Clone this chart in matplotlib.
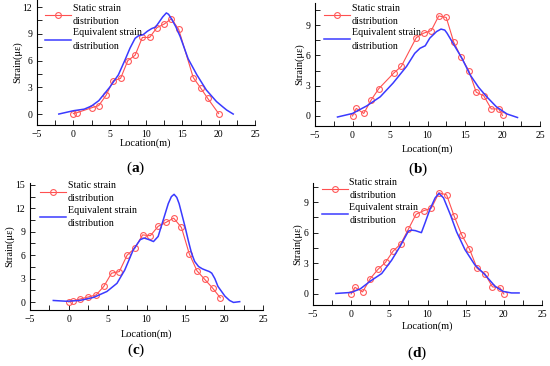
import numpy as np
import matplotlib
matplotlib.use("Agg")
import matplotlib.pyplot as plt
from matplotlib.ticker import MultipleLocator

plt.rcParams['font.family'] = ['Liberation Serif', 'DejaVu Serif']
plt.rcParams['mathtext.fontset'] = 'custom'
plt.rcParams['mathtext.rm'] = 'Liberation Serif'
plt.rcParams['mathtext.bf'] = 'Liberation Serif:bold'

# ---- panel (a)
static_a_x = [0, 0.5, 2.5, 3.5, 4.5, 5.5, 6.5, 7.5, 8.5, 9.5, 10.5, 11.5, 12.5, 13.5, 14.5, 16.5, 17.5, 18.5, 20]
static_a_y = [0.05, 0.15, 0.7, 0.95, 2.1, 3.75, 4.0, 6.0, 6.6, 8.6, 8.6, 9.7, 10.1, 10.7, 9.5, 4.1, 2.95, 1.75, 0.05]
equiv_a_x = [-2, 0, 1.5, 2.5, 3.5, 5, 6.2, 7.1, 7.8, 8.5, 9.0, 9.6, 10.2, 10.8, 11.3, 11.7, 12.3, 12.8, 13.1, 13.5, 14.1, 14.7, 15.8, 17, 18.3, 19.7, 20.5, 21.1, 22]
equiv_a_y = [0.0, 0.37, 0.55, 0.9, 1.5, 3.0, 4.4, 6.05, 7.4, 8.5, 8.8, 8.9, 9.3, 9.6, 9.75, 10.2, 10.9, 11.35, 11.2, 10.7, 9.8, 8.7, 6.2, 4.4, 2.7, 1.4, 0.85, 0.45, 0.0]

# ---- panel (b)
static_b_x = [0, 0.5, 1.5, 2.5, 3.5, 5.5, 6.5, 8.5, 9.5, 10.5, 11.5, 12.5, 13.5, 14.5, 15.5, 16.5, 17.5, 18.5, 19.5, 20]
static_b_y = [0.0, 0.75, 0.25, 1.6, 2.7, 4.25, 4.9, 7.75, 8.2, 8.45, 9.9, 9.75, 7.3, 5.8, 4.5, 2.35, 2.0, 0.7, 0.7, 0.05]
equiv_b_x = [-2, 0, 1.9, 3.7, 5.4, 7.2, 8.3, 9.0, 9.7, 10.3, 11.2, 11.8, 12.3, 12.6, 13.4, 14.6, 15.7, 16.8, 17.9, 19.2, 20.6, 22]
equiv_b_y = [-0.1, 0.25, 1.0, 1.9, 3.25, 4.9, 6.2, 6.7, 6.95, 7.7, 8.35, 8.6, 8.5, 8.2, 7.2, 5.7, 4.05, 2.85, 1.9, 0.9, 0.2, -0.15]

# ---- panel (c)
static_c_x = [0, 0.5, 1.5, 2.5, 3.5, 4.5, 5.5, 6.5, 7.5, 8.5, 9.5, 10.5, 11.5, 12.5, 13.5, 14.5, 15.5, 16.5, 17.5, 18.5, 19.5]
static_c_y = [0.0, 0.15, 0.4, 0.65, 0.9, 2.0, 3.7, 3.9, 6.0, 6.9, 8.6, 8.5, 9.7, 10.2, 10.75, 9.55, 6.2, 4.0, 2.9, 1.8, 0.55]
equiv_c_x = [-2, -0.3, 1.4, 3.2, 4.9, 6.2, 7.2, 8.3, 9.2, 9.7, 10.3, 10.9, 11.5, 12.15, 12.8, 13.2, 13.55, 13.9, 14.2, 14.95, 15.4, 15.8, 16.2, 16.7, 17.2, 17.7, 18.1, 18.4, 18.8, 19.2, 20.1, 20.7, 21.2, 22]
equiv_c_y = [0.2, 0.1, 0.2, 0.6, 1.35, 2.4, 4.1, 6.7, 8.0, 8.2, 8.0, 7.75, 8.4, 10.5, 12.6, 13.5, 13.8, 13.4, 12.6, 9.7, 7.8, 6.25, 5.2, 4.55, 4.25, 4.05, 3.9, 3.7, 3.0, 2.0, 0.75, 0.2, -0.05, 0.05]

# ---- panel (d)
static_d_x = [0, 0.5, 1.5, 2.5, 3.5, 4.5, 5.5, 6.5, 7.5, 8.5, 9.5, 10.5, 11.5, 12.5, 13.5, 14.5, 15.5, 16.5, 17.5, 18.5, 19.5, 20]
static_d_y = [0.0, 0.65, 0.2, 1.5, 2.4, 3.1, 4.2, 4.9, 6.35, 7.8, 8.15, 8.4, 9.9, 9.7, 7.6, 5.75, 4.4, 2.5, 2.0, 0.7, 0.6, 0.0]
equiv_d_x = [-2, 0, 1.2, 2.5, 4.0, 5.3, 6.4, 7.5, 7.9, 8.4, 8.8, 9.2, 9.7, 10.3, 11.0, 11.5, 12.1, 13.0, 13.8, 14.9, 16.2, 17.5, 18.85, 19.9, 21, 22]
equiv_d_y = [0.05, 0.15, 0.5, 1.25, 2.0, 3.3, 4.65, 6.15, 6.25, 6.2, 6.1, 6.0, 7.0, 8.25, 9.4, 9.85, 9.4, 7.75, 6.1, 4.35, 2.85, 1.9, 0.75, 0.25, 0.1, 0.1]

labels = ["Static strain\ndistribution", "Equivalent strain\ndistribution"]

W, H = 550, 366
fig = plt.figure(figsize=(5.5, 3.66), dpi=100)


def panel(px_left, px_right, px_top, px_bottom, ylim, ymax_tick, sx, sy, ex, ey, leg_anchor, xpad, letter, letter_xy):
    ax = fig.add_axes([px_left / W, 1 - px_bottom / H, (px_right - px_left) / W, (px_bottom - px_top) / H])
    ax.plot(sx, sy, color='#ff5050', lw=0.8, marker='o', ms=4.2, mfc='none', mec='#ff5a5a', mew=0.8, label=labels[0])
    ax.plot(ex, ey, color='#3a3aff', lw=1.1, label=labels[1])
    ax.set_xlim(-5, 25)
    ax.set_ylim(*ylim)
    ax.set_xticks(np.arange(-5, 26, 5))
    ax.set_yticks(np.arange(0, ymax_tick + 1, 3))
    ax.xaxis.set_minor_locator(MultipleLocator(2.5))
    ax.yaxis.set_minor_locator(MultipleLocator(1.5))
    for s in ['top', 'right']:
        ax.spines[s].set_visible(False)
    for s in ['left', 'bottom']:
        ax.spines[s].set_linewidth(0.8)
    ax.tick_params(which='both', direction='in', length=3.5, width=0.6, labelsize=7, pad=3.5)
    ax.set_xlabel("Location(m)", fontsize=7.5, labelpad=xpad)
    ax.set_ylabel("Strain(με)", fontsize=7.5, labelpad=0.5)
    leg = ax.legend(loc='upper left', bbox_to_anchor=leg_anchor, frameon=False, fontsize=7.2,
                    handlelength=2.6, handletextpad=0.15, labelspacing=0.25, borderpad=0, borderaxespad=0)
    for t in leg.get_texts():
        t.set_linespacing(1.6)
    fig.text(letter_xy[0] / W, 1 - letter_xy[1] / H, r'($\mathbf{%s}$)' % letter, fontsize=11,
             ha='center', va='center')
    return ax


panel(37, 255, 0, 125, (-1.23, 12.8), 12, static_a_x, static_a_y, equiv_a_x, equiv_a_y, (0.037, 0.97), -0.5, 'a', (136, 168))
panel(315, 540, 3, 126, (-0.99, 11.18), 9, static_b_x, static_b_y, equiv_b_x, equiv_b_y, (0.04, 0.995), 3.0, 'b', (418, 169))
panel(30, 263, 183, 310, (-1.02, 15.25), 15, static_c_x, static_c_y, equiv_c_x, equiv_c_y, (0.043, 1.015), 4.0, 'c', (136, 350))
panel(313, 542, 183, 305, (-1.08, 10.86), 9, static_d_x, static_d_y, equiv_d_x, equiv_d_y, (0.039, 1.04), 2.0, 'd', (417, 353))

fig.savefig("out.png", dpi=100)
